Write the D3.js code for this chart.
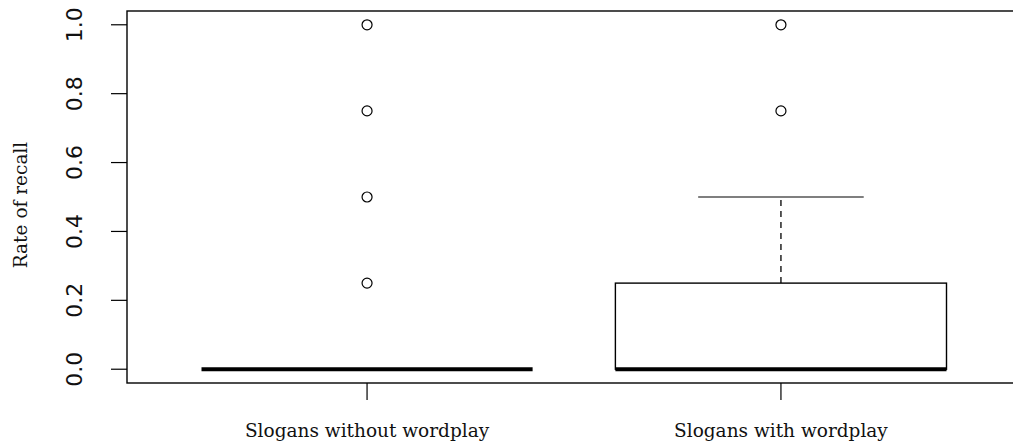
<!DOCTYPE html>
<html>
<head>
<meta charset="utf-8">
<script src="https://cdn.jsdelivr.net/npm/d3@7"></script>
<style>
  body { margin: 0; background: #fff; }
  svg { display: block; }
</style>
</head>
<body>
<div id="chart"></div>
<script>
// data
var categories = ["Slogans without wordplay", "Slogans with wordplay"];
var q1 = [0, 0];
var medians = [0, 0];
var q3 = [0, 0.25];
var whiskerLow = [0, 0];
var whiskerHigh = [0, 0.5];
var outliers = [[0.25, 0.5, 0.75, 1.0], [0.75, 1.0]];
var yTicks = [0, 0.2, 0.4, 0.6, 0.8, 1.0];

var W = 1013, H = 447;

var svg = d3.select("#chart")
  .append("svg")
  .attr("width", W)
  .attr("height", H);

// R style: groups at 1..n, 4% padding on both axes
var x = d3.scaleLinear().domain([0.42, 2.58]).range([127, 1021]);
var y = d3.scaleLinear().domain([-0.04, 1.04]).range([383, 11]);
var boxW = x(1.4) - x(1);

var groups = categories.map(function(c, i) {
  return {name: c, pos: i + 1, q1: q1[i], med: medians[i], q3: q3[i],
          lo: whiskerLow[i], hi: whiskerHigh[i], out: outliers[i]};
});

var g = svg.selectAll(".box")
  .data(groups)
  .enter()
  .append("g")
  .attr("class", "box");

// whiskers (dashed)
g.append("line")
  .attr("x1", function(d) { return x(d.pos); })
  .attr("x2", function(d) { return x(d.pos); })
  .attr("y1", function(d) { return y(d.q3); })
  .attr("y2", function(d) { return y(d.hi); })
  .attr("stroke", "#000")
  .attr("stroke-width", 1.3)
  .attr("stroke-dasharray", "6,5");

g.append("line")
  .attr("x1", function(d) { return x(d.pos); })
  .attr("x2", function(d) { return x(d.pos); })
  .attr("y1", function(d) { return y(d.q1); })
  .attr("y2", function(d) { return y(d.lo); })
  .attr("stroke", "#000")
  .attr("stroke-width", 1.3)
  .attr("stroke-dasharray", "6,5");

// staples
g.each(function(d) {
  var el = d3.select(this);
  [d.lo, d.hi].forEach(function(v) {
    el.append("line")
      .attr("x1", x(d.pos) - boxW / 2)
      .attr("x2", x(d.pos) + boxW / 2)
      .attr("y1", y(v))
      .attr("y2", y(v))
      .attr("stroke", "#000")
      .attr("stroke-width", 1.2);
  });
});

// box
g.append("rect")
  .attr("x", function(d) { return x(d.pos) - boxW; })
  .attr("width", boxW * 2)
  .attr("y", function(d) { return y(d.q3); })
  .attr("height", function(d) { return y(d.q1) - y(d.q3); })
  .attr("fill", "#fff")
  .attr("stroke", "#000")
  .attr("stroke-width", 1.4);

// median
g.append("line")
  .attr("x1", function(d) { return x(d.pos) - boxW; })
  .attr("x2", function(d) { return x(d.pos) + boxW; })
  .attr("y1", function(d) { return y(d.med); })
  .attr("y2", function(d) { return y(d.med); })
  .attr("stroke", "#000")
  .attr("stroke-width", 4);

// outliers
g.each(function(d) {
  d3.select(this).selectAll("circle")
    .data(d.out)
    .enter()
    .append("circle")
    .attr("cx", x(d.pos))
    .attr("cy", function(v) { return y(v); })
    .attr("r", 5)
    .attr("fill", "none")
    .attr("stroke", "#000")
    .attr("stroke-width", 1.2);
});

// frame
svg.append("rect")
  .attr("x", x(0.42))
  .attr("y", y(1.04))
  .attr("width", x(2.58) - x(0.42))
  .attr("height", y(-0.04) - y(1.04))
  .attr("fill", "none")
  .attr("stroke", "#000")
  .attr("stroke-width", 1.4);

// y axis ticks
svg.selectAll(".ytick")
  .data(yTicks)
  .enter()
  .append("line")
  .attr("x1", 111)
  .attr("x2", 127)
  .attr("y1", function(d) { return y(d); })
  .attr("y2", function(d) { return y(d); })
  .attr("stroke", "#000")
  .attr("stroke-width", 1.2);

svg.selectAll(".ylab")
  .data(yTicks)
  .enter()
  .append("text")
  .attr("transform", function(d) { return "translate(82," + y(d) + ") rotate(-90)"; })
  .attr("text-anchor", "middle")
  .style("font-family", "'DejaVu Sans', sans-serif")
  .style("font-size", "22px")
  .attr("fill", "#111")
  .text(function(d) { return d3.format(".1f")(d); });

// x axis ticks
svg.selectAll(".xtick")
  .data(groups)
  .enter()
  .append("line")
  .attr("x1", function(d) { return x(d.pos); })
  .attr("x2", function(d) { return x(d.pos); })
  .attr("y1", 383)
  .attr("y2", 400)
  .attr("stroke", "#000")
  .attr("stroke-width", 1.2);

svg.selectAll(".xlab")
  .data(groups)
  .enter()
  .append("text")
  .attr("x", function(d) { return x(d.pos); })
  .attr("y", 437)
  .attr("text-anchor", "middle")
  .style("font-family", "'DejaVu Serif', serif")
  .style("font-size", "18.5px")
  .attr("fill", "#111")
  .text(function(d) { return d.name; });

// y axis title
svg.append("text")
  .attr("transform", "translate(27,205) rotate(-90)")
  .attr("text-anchor", "middle")
  .style("font-family", "'DejaVu Serif', serif")
  .style("font-size", "18.5px")
  .attr("fill", "#111")
  .text("Rate of recall");
</script>
</body>
</html>
